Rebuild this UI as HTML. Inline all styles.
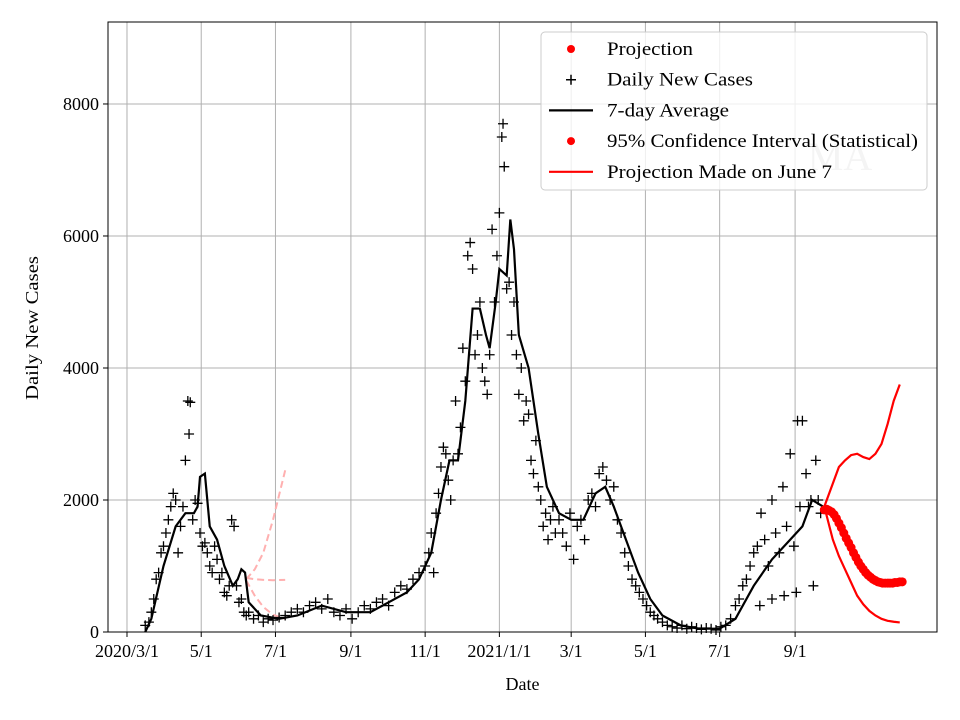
<!DOCTYPE html>
<html><head><meta charset="utf-8"><style>
body{margin:0;background:#fff;}
svg{display:block;font-family:"Liberation Serif",serif;}
</style></head><body>
<svg id="chart" width="960" height="720" viewBox="0 0 960 720" xmlns="http://www.w3.org/2000/svg"></svg>
<script>
// data (x = days since 2020/3/1)
const xTickDays = [0,61,122,184,245,306,365,426,487,549];
const xTickLabels = ["2020/3/1","5/1","7/1","9/1","11/1","2021/1/1","3/1","5/1","7/1","9/1"];
const yTickValues = [0,2000,4000,6000,8000];
const scatterDays = [15,18,20,22,24,26,28,30,32,34,36,38,40,42,44,46,48,50,51,52,54,56,58,60,62,64,66,68,70,72,74,76,78,80,82,84,86,88,90,92,94,96,98,100,104,108,112,116,120,125,130,135,140,145,150,155,160,165,170,175,180,185,190,195,200,205,210,215,220,225,230,235,240,245,248,250,252,254,256,258,260,262,264,266,268,270,272,274,276,278,280,282,284,286,288,290,292,294,296,298,300,302,304,306,308,309,310,312,314,316,318,320,322,324,326,328,330,332,334,336,338,340,342,344,346,348,350,352,355,358,361,364,367,370,373,376,379,382,385,388,391,394,397,400,403,406,409,412,415,418,421,424,427,430,433,436,440,444,448,452,456,460,464,468,472,476,480,484,488,492,496,500,503,506,509,512,515,518,521,524,527,530,533,536,539,542,545,548,551,553,555,558,560,562,564,566,568,570,520,530,540,550];
const scatterValues = [100,150,300,500,800,900,1200,1300,1500,1700,1900,2100,2000,1200,1600,1900,2600,3500,3000,3480,1700,2000,1950,1500,1300,1350,1200,1000,900,1300,1100,800,900,600,550,700,1700,1600,700,450,500,300,250,300,200,250,150,200,180,220,250,300,350,300,400,450,350,500,300,250,350,200,300,400,350,450,500,400,600,700,650,800,900,1000,1200,1500,900,1800,2100,2500,2800,2700,2300,2000,2600,3500,2700,3100,4300,3800,5700,5900,5500,4200,4500,5000,4000,3800,3600,4200,6100,5000,5700,6350,7500,7700,7050,5200,5300,4500,5000,4200,3600,4000,3200,3500,3300,2600,2400,2900,2200,2000,1600,1800,1400,1700,1900,1500,1700,1500,1300,1800,1100,1600,1700,1400,2000,2100,1900,2400,2500,2300,2000,2200,1700,1500,1200,1000,800,700,600,500,400,300,250,200,150,100,80,60,100,50,80,60,40,60,50,30,80,100,200,400,500,700,800,1000,1200,1300,1800,1400,1000,2000,1500,1200,2200,1600,2700,1300,3200,1900,3200,2400,1900,2000,700,2600,2000,1800,400,500,550,600];
const avgDays = [15,20,30,40,48,55,58,60,64,68,74,80,87,91,94,97,100,110,125,140,160,180,200,215,230,240,250,258,265,272,278,284,290,295,298,303,306,312,315,318,322,330,338,345,355,365,375,385,393,400,410,420,430,440,455,470,487,500,515,530,545,555,563,572];
const avgValues = [0,200,1000,1600,1800,1800,1900,2350,2400,1600,1400,1000,700,800,950,900,450,250,200,250,400,300,300,450,600,800,1200,2000,2600,2600,3500,4900,4900,4500,4300,5000,5500,5400,6250,5800,4500,4000,3000,2200,1800,1700,1700,2100,2200,1900,1400,900,500,250,100,50,50,200,700,1100,1400,1600,2000,1900];
const projDays = [573,575,577,579,581,583,585,587,589,591,593,595,597,599,601,603,605,607,609,611,613,615,617,619,621,623,625,627,629,631,633,635,637];
const projValues = [1850,1860,1840,1820,1780,1720,1650,1580,1500,1420,1350,1280,1200,1130,1060,1000,950,900,860,830,800,780,760,750,740,740,740,740,740,750,750,760,760];
const ciDays = [573,580,585,590,595,600,605,610,615,620,625,630,635];
const ciUpper = [1900,2250,2500,2600,2680,2700,2650,2620,2700,2850,3150,3500,3750];
const ciLower = [1900,1400,1150,950,750,550,420,320,250,200,170,155,145];
const oldDays = [98,105,112,120,130];
const oldUpper = [800,950,1200,1700,2450];
const oldMid = [820,800,790,785,790];
const oldLower = [780,550,380,260,200];

const L=108,R=937,T=22,B=632;
const dMin=-15.6,dMax=665.6,yMax=9242;
const X=d=>L+(d-dMin)/(dMax-dMin)*(R-L);
const Y=v=>B-v/yMax*(B-T);
const svg=document.getElementById('chart');
const NS='http://www.w3.org/2000/svg';
function mk(tag,attrs,parent){const e=document.createElementNS(NS,tag);for(const k in attrs)e.setAttribute(k,attrs[k]);(parent||svg).appendChild(e);return e;}

const grid=mk('g',{});


xTickDays.forEach((d,i)=>{
  const x=X(d);
  mk('line',{x1:x,x2:x,y1:T,y2:B,stroke:'#b0b0b0','stroke-width':1},grid);
  mk('line',{x1:x,x2:x,y1:B,y2:B+5,stroke:'#000'});
  const t=mk('text',{x:x,y:B+25,'text-anchor':'middle','font-size':18});
  
  
  t.textContent=xTickLabels[i];
});
yTickValues.forEach(v=>{
  const y=Y(v);
  if(v>0)mk('line',{x1:L,x2:R,y1:y,y2:y,stroke:'#b0b0b0','stroke-width':1},grid);
  mk('line',{x1:L-5,x2:L,y1:y,y2:y,stroke:'#000'});
  const t=mk('text',{x:L-9,y:y+6,'text-anchor':'end','font-size':18});
  
  
  t.textContent=v;
});

const wm=mk('text',{x:840,y:170,'text-anchor':'middle','font-size':40,fill:'#c8c8c8'});


wm.textContent='MA';

function line(ds,vs,attrs,name){
  const p=mk('polyline',Object.assign({points:ds.map((d,i)=>X(d)+','+Y(vs[i])).join(' '),fill:'none'},attrs));
  
  
}
line(oldDays,oldUpper,{stroke:'#ffb0b0','stroke-width':2,'stroke-dasharray':'7,4'},'old-ci-upper');
line(oldDays,oldMid,{stroke:'#ffb0b0','stroke-width':2,'stroke-dasharray':'7,4'},'old-projection');
line(oldDays,oldLower,{stroke:'#ffb0b0','stroke-width':2,'stroke-dasharray':'7,4'},'old-ci-lower');

const sg=mk('g',{stroke:'#000','stroke-width':1.3});


scatterDays.forEach((d,i)=>{
  const x=X(d),y=Y(scatterValues[i]);
  mk('path',{d:`M${x-5},${y}H${x+5}M${x},${y-5}V${y+5}`},sg);
});
line(avgDays,avgValues,{stroke:'#000','stroke-width':2.2},'seven-day-average-line');
line(ciDays,ciUpper,{stroke:'#f00','stroke-width':2.2},'ci-upper-line');
line(ciDays,ciLower,{stroke:'#f00','stroke-width':2.2},'ci-lower-line');
const pg=mk('g',{fill:'#f00'});


projDays.forEach((d,i)=>mk('circle',{cx:X(d),cy:Y(projValues[i]),r:4.5},pg));

const frame=mk('rect',{x:L,y:T,width:R-L,height:B-T,fill:'none',stroke:'#000','stroke-width':1});



const xt=mk('text',{x:(L+R)/2,y:690,'text-anchor':'middle','font-size':18});


xt.textContent='Date';
const yt=mk('text',{x:38,y:328,'text-anchor':'middle','font-size':18,textLength:144,lengthAdjust:'spacingAndGlyphs',transform:'rotate(-90 38 328)'});


yt.textContent='Daily New Cases';

const lg=mk('g',{});


mk('rect',{x:541,y:32,width:386,height:158,rx:4,fill:'rgba(255,255,255,0.8)',stroke:'#ccc','stroke-width':1},lg);
const entries=[['dot','#f00','Projection',86],['plus','#000','Daily New Cases',146],['line','#000','7-day Average',122],['dot','#f00','95% Confidence Interval (Statistical)',311],['line','#f00','Projection Made on June 7',225]];
entries.forEach((e,i)=>{
  const y=49+i*30.7;
  const g=mk('g',{},lg);
  
  
  if(e[0]=='dot')mk('circle',{cx:571,cy:y,r:4,fill:e[1]},g);
  else if(e[0]=='plus')mk('path',{d:`M566,${y}H576M571,${y-5}V${y+5}`,stroke:'#000','stroke-width':1.5},g);
  else mk('line',{x1:549,x2:593,y1:y,y2:y,stroke:e[1],'stroke-width':2.2},g);
  const t=mk('text',{x:607,y:y+6,'font-size':19,textLength:e[3],lengthAdjust:'spacingAndGlyphs'},g);
  t.textContent=e[2];
});
</script>
</body></html>
